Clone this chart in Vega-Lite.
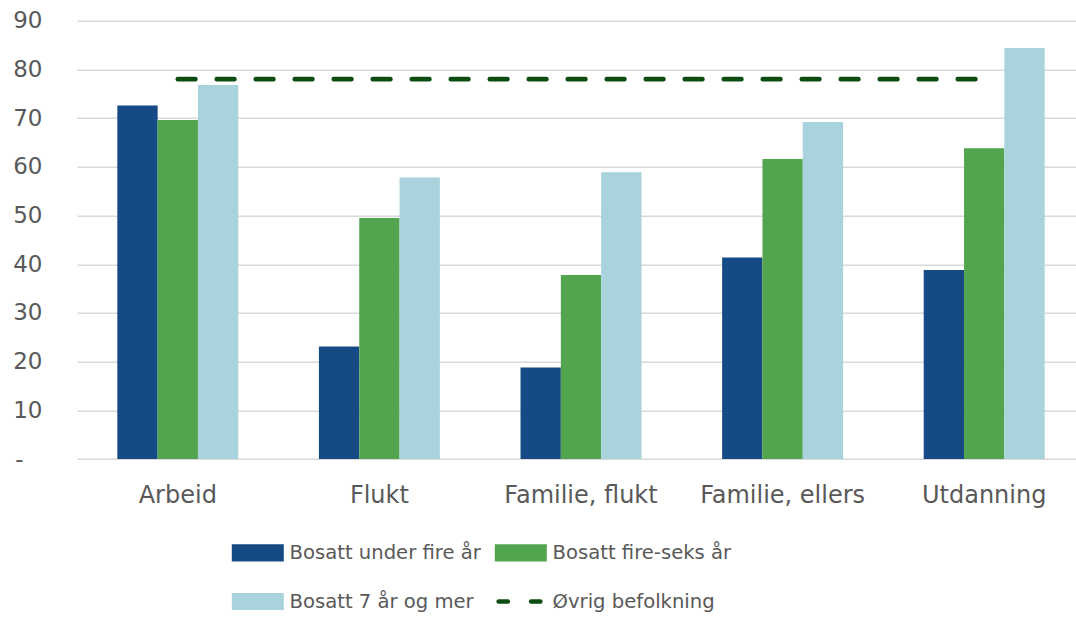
{
  "$schema": "https://vega.github.io/schema/vega-lite/v6.json",
  "width": 999,
  "height": 438.3,
  "autosize": {"type": "none"},
  "padding": {"left": 77, "top": 20.7, "right": 0, "bottom": 160},
  "background": "white",
  "config": {"view": {"stroke": null}, "font": "DejaVu Sans"},
  "datasets": {
    "bars": [
      {"kategori": "Arbeid", "serie": "Bosatt under fire år", "verdi": 72.6},
      {"kategori": "Arbeid", "serie": "Bosatt fire-seks år", "verdi": 69.6},
      {"kategori": "Arbeid", "serie": "Bosatt 7 år og mer", "verdi": 76.8},
      {"kategori": "Flukt", "serie": "Bosatt under fire år", "verdi": 23.1},
      {"kategori": "Flukt", "serie": "Bosatt fire-seks år", "verdi": 49.5},
      {"kategori": "Flukt", "serie": "Bosatt 7 år og mer", "verdi": 57.8},
      {"kategori": "Familie, flukt", "serie": "Bosatt under fire år", "verdi": 18.8},
      {"kategori": "Familie, flukt", "serie": "Bosatt fire-seks år", "verdi": 37.8},
      {"kategori": "Familie, flukt", "serie": "Bosatt 7 år og mer", "verdi": 58.9},
      {"kategori": "Familie, ellers", "serie": "Bosatt under fire år", "verdi": 41.4},
      {"kategori": "Familie, ellers", "serie": "Bosatt fire-seks år", "verdi": 61.6},
      {"kategori": "Familie, ellers", "serie": "Bosatt 7 år og mer", "verdi": 69.2},
      {"kategori": "Utdanning", "serie": "Bosatt under fire år", "verdi": 38.8},
      {"kategori": "Utdanning", "serie": "Bosatt fire-seks år", "verdi": 63.8},
      {"kategori": "Utdanning", "serie": "Bosatt 7 år og mer", "verdi": 84.4}
    ],
    "linje": [
      {"kategori": "Arbeid", "serie": "Øvrig befolkning", "verdi": 78.0},
      {"kategori": "Flukt", "serie": "Øvrig befolkning", "verdi": 78.0},
      {"kategori": "Familie, flukt", "serie": "Øvrig befolkning", "verdi": 78.0},
      {"kategori": "Familie, ellers", "serie": "Øvrig befolkning", "verdi": 78.0},
      {"kategori": "Utdanning", "serie": "Øvrig befolkning", "verdi": 78.0}
    ]
  },
  "layer": [
    {
      "data": {"name": "bars"},
      "mark": {"type": "bar"},
      "encoding": {
        "x": {
          "field": "kategori",
          "type": "nominal",
          "sort": null,
          "scale": {"range": [0, 1008], "paddingInner": 0, "paddingOuter": 0},
          "axis": {
            "title": null,
            "labelAngle": 0,
            "labelFont": "DejaVu Sans",
            "labelFontSize": 24,
            "labelColor": "#595959",
            "labelPadding": 24,
            "labelLimit": 300,
            "ticks": false,
            "domain": false,
            "grid": false
          }
        },
        "xOffset": {
          "field": "serie",
          "type": "nominal",
          "sort": ["Bosatt under fire år", "Bosatt fire-seks år", "Bosatt 7 år og mer"],
          "scale": {"paddingInner": 0, "paddingOuter": 1.085}
        },
        "y": {
          "field": "verdi",
          "type": "quantitative",
          "scale": {"domain": [0, 90], "nice": false},
          "axis": {
            "title": null,
            "values": [0, 10, 20, 30, 40, 50, 60, 70, 80, 90],
            "labelExpr": "datum.value === 0 ? '-' : datum.label",
            "labelFont": "DejaVu Sans",
            "labelFontSize": 23,
            "labelColor": "#595959",
            "labelPadding": {"condition": {"test": "datum.value === 0", "value": 54}, "value": 35},
            "ticks": false,
            "domain": false,
            "gridColor": "#d9d9d9",
            "gridWidth": 1.5
          }
        },
        "color": {
          "field": "serie",
          "type": "nominal",
          "scale": {
            "domain": ["Bosatt under fire år", "Bosatt fire-seks år", "Bosatt 7 år og mer", "Øvrig befolkning"],
            "range": ["#164a84", "#52a44f", "#a9d3dc", "#0d4d12"]
          },
          "legend": {
            "title": null,
            "orient": "none",
            "direction": "horizontal",
            "legendX": 171,
            "legendY": 522,
            "columns": 2,
            "columnPadding": 8,
            "rowPadding": 28,
            "symbolType": "M-1,-0.33H1V0.33H-1Z",
            "symbolSize": 2704,
            "symbolStrokeWidth": 0,
            "labelFont": "DejaVu Sans",
            "labelFontSize": 19.6,
            "labelColor": "#595959",
            "labelOffset": 22,
            "labelLimit": 400,
            "encode": {
              "symbols": {
                "update": {
                  "shape": {"signal": "datum.value === 'Øvrig befolkning' ? 'M-0.85,0H-0.5M0.4,0H0.75' : 'M-1,-0.33H1V0.33H-1Z'"},
                  "fill": {"signal": "datum.value === 'Øvrig befolkning' ? 'transparent' : scale('color', datum.value)"},
                  "stroke": {"signal": "datum.value === 'Øvrig befolkning' ? '#0d4d12' : 'transparent'"},
                  "strokeWidth": {"signal": "datum.value === 'Øvrig befolkning' ? 4.7 : 0"},
                  "strokeCap": {"value": "round"},
                  "strokeDash": {"value": [1, 0]},
                  "opacity": {"value": 1}
                }
              }
            }
          }
        }
      }
    },
    {
      "data": {"name": "linje"},
      "mark": {"type": "line", "strokeWidth": 4.7, "strokeCap": "round", "strokeDash": [17.6, 21.4]},
      "encoding": {
        "x": {"field": "kategori", "type": "nominal", "sort": null},
        "y": {"field": "verdi", "type": "quantitative"},
        "color": {"field": "serie", "type": "nominal"}
      }
    }
  ]
}
